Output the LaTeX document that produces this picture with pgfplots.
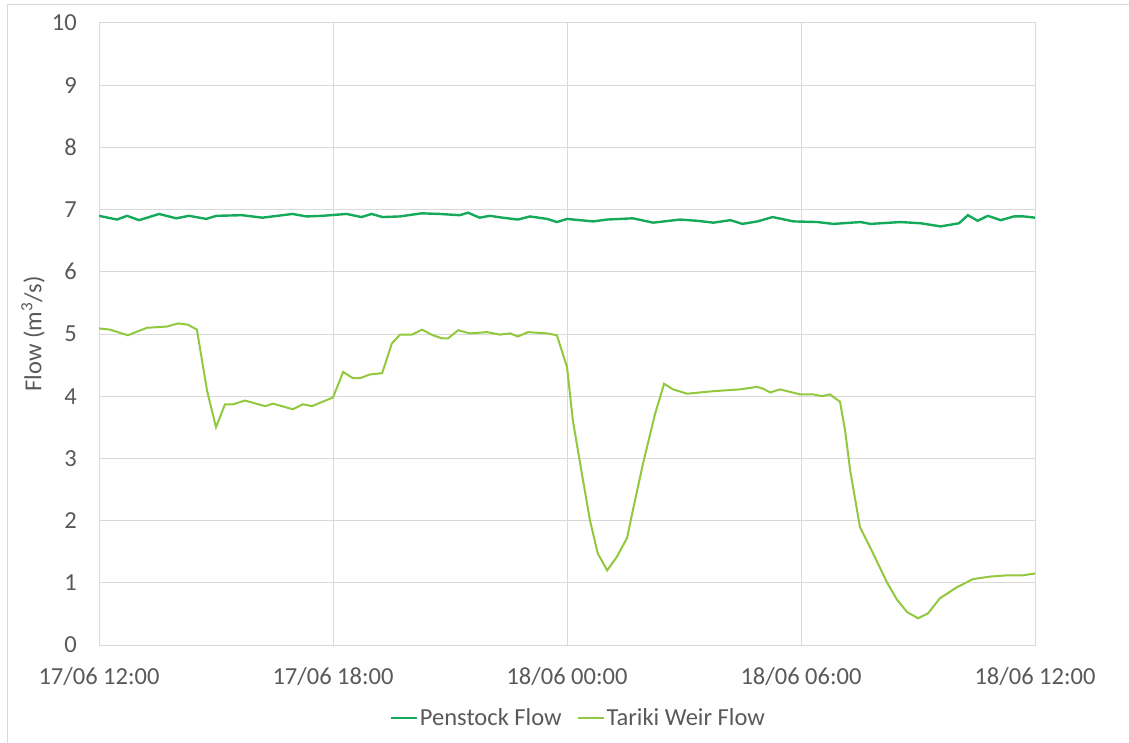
\documentclass[border=0pt]{standalone}
\usepackage{fontspec}
\setmainfont{Carlito}
\usepackage{pgfplots}
\pgfplotsset{compat=1.18}
\definecolor{penstock}{RGB}{20,170,90}
\definecolor{tariki}{RGB}{146,200,62}
\definecolor{txt}{RGB}{89,89,89}
\definecolor{gridc}{RGB}{217,217,217}
\newcommand\lbl{\fontsize{24.5}{29}\selectfont}

\begin{document}
\begin{tikzpicture}
\useasboundingbox (-99pt,-97pt) rectangle (1030pt,645pt);
\draw[gridc, line width=1pt] (-91pt,-130pt) rectangle (1060pt,640pt);
\begin{axis}[
    at={(0pt,0pt)}, anchor=south west,
    scale only axis, width=936pt, height=622pt,
    xmin=0, xmax=24, ymin=0, ymax=10,
    xtick={0,6,12,18,24},
    xticklabels={17/06 12:00, 17/06 18:00, 18/06 00:00, 18/06 06:00, 18/06 12:00},
    ytick={0,1,...,10},
    major tick length=0pt,
    grid=major,
    grid style={gridc, line width=1pt},
    axis line style={gridc, line width=1pt},
    tick label style={font=\lbl, text=txt},
    /pgf/number format/assume math mode=true,
    xticklabel style={anchor=north, inner sep=0pt, yshift=-22pt},
    yticklabel style={anchor=east, inner sep=0pt, xshift=-22pt},
    ylabel={Flow (m\textsuperscript{3}/s)},
    ylabel style={at={(axis description cs:-0.0705,0.5)}, anchor=center, font=\lbl, text=txt},
    legend style={at={(axis description cs:0.512,0)}, anchor=center, yshift=-73pt,
        draw=none, fill=none, font=\lbl, text=txt, inner sep=0pt,
        legend columns=2, /tikz/every even column/.append style={column sep=13pt}},
    legend image code/.code={\draw[#1] (0pt,0pt) -- (26pt,0pt);},
]
\addplot[penstock, line width=2.4pt] coordinates {
(0.00,6.90) (0.46,6.84) (0.72,6.90) (1.03,6.83) (1.54,6.93) (1.98,6.86)
(2.31,6.90) (2.75,6.85) (3.01,6.90) (3.67,6.91) (4.19,6.87) (4.96,6.93)
(5.32,6.89) (5.73,6.90) (6.35,6.93) (6.73,6.88) (6.99,6.93) (7.27,6.88)
(7.71,6.89) (8.27,6.94) (8.74,6.93) (9.25,6.91) (9.46,6.95) (9.76,6.87)
(10.02,6.90) (10.35,6.87) (10.74,6.84) (11.05,6.89) (11.49,6.85) (11.74,6.80)
(12.00,6.85) (12.67,6.81) (13.03,6.84) (13.69,6.86) (14.21,6.79) (14.90,6.84)
(15.34,6.82) (15.75,6.79) (16.19,6.83) (16.50,6.77) (16.88,6.81) (17.27,6.88)
(17.81,6.81) (18.42,6.80) (18.83,6.77) (19.53,6.80) (19.78,6.77) (20.55,6.80)
(21.07,6.78) (21.58,6.73) (22.05,6.78) (22.28,6.91) (22.53,6.82) (22.79,6.90)
(23.12,6.83) (23.46,6.89) (23.72,6.89) (24.00,6.87)
};
\addplot[tariki, line width=2pt] coordinates {
(0.00,5.09) (0.28,5.07) (0.74,4.98) (1.23,5.10) (1.74,5.12) (2.03,5.17)
(2.28,5.15) (2.51,5.07) (2.77,4.09) (3.00,3.50) (3.23,3.87) (3.44,3.87)
(3.74,3.93) (4.26,3.84) (4.46,3.88) (4.97,3.79) (5.23,3.87) (5.46,3.84)
(6.00,3.98) (6.26,4.39) (6.51,4.29) (6.69,4.29) (6.95,4.35) (7.26,4.37)
(7.51,4.85) (7.72,4.99) (8.03,4.99) (8.28,5.07) (8.56,4.98) (8.79,4.93)
(8.95,4.93) (9.21,5.06) (9.51,5.01) (9.95,5.03) (10.28,4.99) (10.54,5.01)
(10.74,4.96) (11.00,5.03) (11.49,5.01) (11.74,4.98) (12.00,4.47) (12.15,3.61)
(12.41,2.65) (12.59,2.00) (12.79,1.47) (13.03,1.20) (13.28,1.42) (13.54,1.72)
(13.69,2.17) (13.95,2.92) (14.26,3.72) (14.49,4.20) (14.72,4.11) (15.08,4.04)
(15.74,4.08) (16.44,4.11) (16.87,4.15) (17.03,4.12) (17.21,4.06) (17.46,4.11)
(17.97,4.03) (18.31,4.03) (18.54,4.00) (18.74,4.03) (19.00,3.91) (19.13,3.45)
(19.26,2.81) (19.51,1.90) (19.85,1.47) (20.21,1.00) (20.46,0.73) (20.72,0.53)
(21.00,0.43) (21.26,0.51) (21.56,0.75) (22.00,0.93) (22.41,1.06) (22.85,1.10)
(23.28,1.12) (23.69,1.12) (24.00,1.15)
};
\legend{Penstock Flow, Tariki Weir Flow}
\end{axis}
\end{tikzpicture}
\end{document}
